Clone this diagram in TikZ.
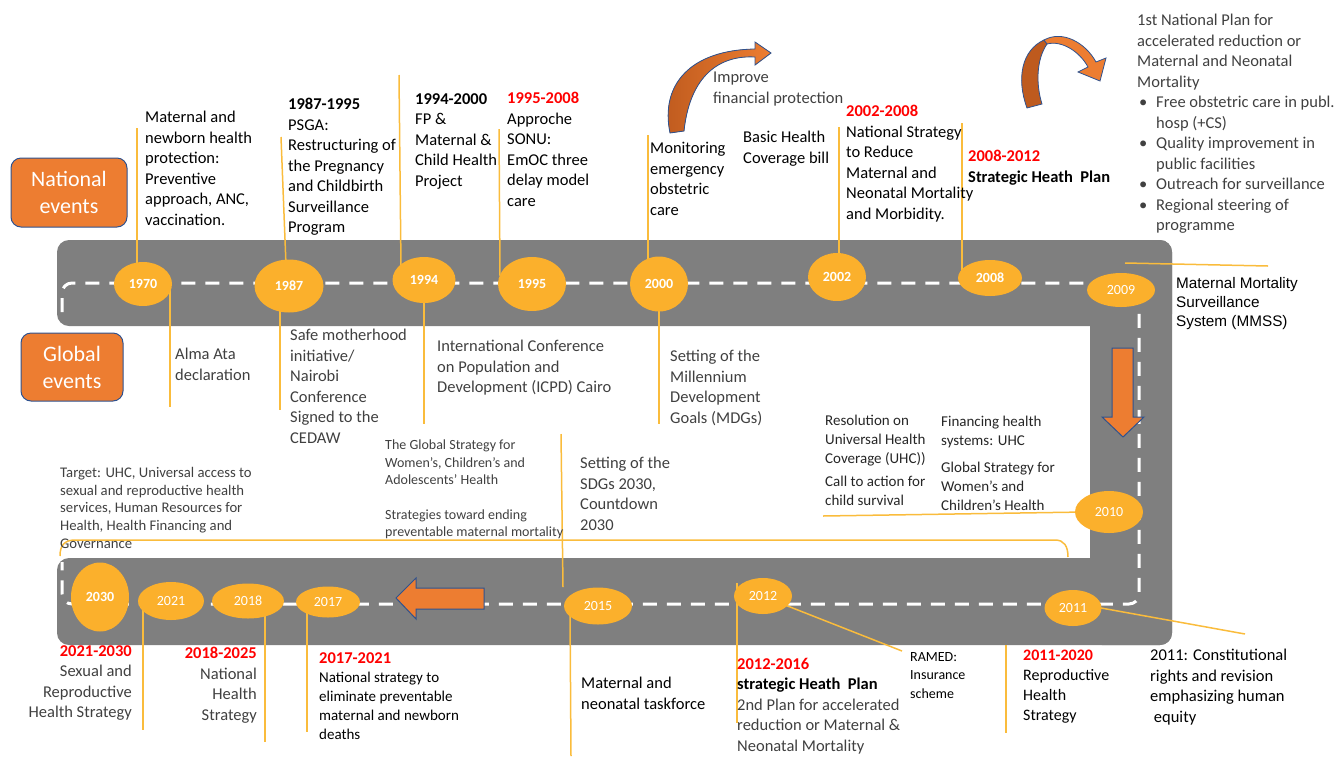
\documentclass[tikz,border=0pt]{standalone}
\usepackage{fontspec}
\setmainfont{Carlito}
\newfontfamily\arialf{Liberation Sans}
\usetikzlibrary{shapes.geometric}
\definecolor{roadgray}{RGB}{127,127,127}
\definecolor{yellowor}{RGB}{251,176,44}
\definecolor{connor}{RGB}{250,188,60}
\definecolor{boxor}{RGB}{237,125,49}
\definecolor{darkor}{RGB}{190,90,30}
\definecolor{blueline}{RGB}{47,82,143}
\definecolor{textgray}{RGB}{64,64,64}
\definecolor{textdark}{RGB}{38,38,38}
\definecolor{yred}{RGB}{255,0,0}
\newcommand\yrtitle[1]{\textcolor{yred}{\bfseries #1}}
\begin{document}
\begin{tikzpicture}[x=1pt,y=-1pt,
  road/.style={fill=roadgray},
  dashline/.style={white, line width=3pt, dash pattern=on 14pt off 10pt},
  conn/.style={draw=connor, line width=1.5pt},
  yearel/.style={ellipse, fill=yellowor, inner sep=0pt, text=white, font=\fontsize{14}{16}\selectfont},
  catbox/.style={draw=blueline, line width=1pt, fill=boxor, rounded corners=10pt, text=white, align=center, font=\fontsize{22}{27}\selectfont, inner sep=0pt},
  blockarrow/.style={fill=boxor, draw=blueline, line width=1pt},
  tnat/.style={anchor=north west, inner sep=0pt, yshift=-2pt, align=left, font=\fontsize{16.5}{20.5}\selectfont, text=black},
  tglob/.style={tnat, text=textgray},
  tsmall/.style={anchor=north west, inner sep=0pt, yshift=-2pt, align=left, font=\fontsize{14}{17.5}\selectfont, text=textgray},
  tmed/.style={anchor=north west, inner sep=0pt, yshift=-1pt, align=left, font=\fontsize{15}{19}\selectfont, text=textdark}
]
\useasboundingbox (0,0) rectangle (1339,756);

% ---- road ----
\fill[road, rounded corners=12pt] (57,240) rectangle (1172,326);
\fill[road, rounded corners=12pt] (1090,240) rectangle (1172,645);
\fill[road, rounded corners=12pt] (57,558) rectangle (1172,645);
\draw[dashline, rounded corners=10pt] (62,312) -- (62,283) -- (1139,283) -- (1139,604) -- (62,604) -- (62,562);

% ---- connector end points ----
\coordinate (t1970) at (137,128);
\coordinate (t1987) at (281,137);
\coordinate (t1994) at (399,75);
\coordinate (t1995) at (499,129);
\coordinate (t2000) at (648,135);
\coordinate (t2002) at (839,127);
\coordinate (t2008) at (962,123);
\coordinate (t2009) at (1268,266);
\coordinate (s2009) at (1125,263);
\coordinate (g1970) at (170,407);
\coordinate (g1987) at (280,410);
\coordinate (g1994) at (424,424);
\coordinate (g2000) at (659,424);
\coordinate (u2015) at (561,434);
\coordinate (v2015) at (563,587);
\coordinate (d2015) at (571,756);
\coordinate (s2012) at (737,583);
\coordinate (d2012) at (737,723);
\coordinate (r2012) at (902,651);
\coordinate (r2011) at (1245,634);
\coordinate (a2011) at (1006,645);
\coordinate (b2011) at (1006,733);
\coordinate (d2021) at (143,730);
\coordinate (d2018) at (265,742);
\coordinate (d2017) at (307,732);
\coordinate (l2010) at (823,516);

% ---- connectors (under the ellipses) ----
\draw[conn] (t1970) -- (137,270);
\draw[conn] (t1987) -- (286,265);
\draw[conn] (t1994) -- (401,268);
\draw[conn] (t1995) -- (500,276);
\draw[conn] (t2000) -- (648,265);
\draw[conn] (t2002) -- (839,262);
\draw[conn] (t2008) -- (962,270);
\draw[conn] (s2009) -- (t2009);
\draw[conn] (170,290) -- (g1970);
\draw[conn] (280,300) -- (g1987);
\draw[conn] (424,290) -- (g1994);
\draw[conn] (659,290) -- (g2000);
\draw[conn] (u2015) -- (v2015);
\draw[conn] (570,610) -- (d2015);
\draw[conn] (s2012) -- (d2012);
\draw[conn] (780,603) -- (r2012);
\draw[conn] (1090,606) -- (r2011);
\draw[conn] (a2011) -- (b2011);
\draw[conn] (143,605) -- (d2021);
\draw[conn] (265,605) -- (d2018);
\draw[conn] (307,605) -- (d2017);
\draw[conn] (1085,512) -- (l2010);
\draw[conn] (60,556) .. controls (60,546) and (64,540) .. (75,540) -- (1055,540) .. controls (1064,540) and (1068,546) .. (1068,557);

% ---- year ellipses ----
\node[yearel, minimum width=58pt, minimum height=44pt] (e1970) at (143,284) {\bfseries 1970};
\node[yearel, minimum width=69pt, minimum height=53pt] (e1987) at (289,286) {\bfseries 1987};
\node[yearel, minimum width=63pt, minimum height=46pt] (e1994) at (424,280) {\bfseries 1994};
\node[yearel, minimum width=68pt, minimum height=54pt] (e1995) at (532,284) {\bfseries 1995};
\node[yearel, minimum width=58pt, minimum height=55pt] (e2000) at (659,284) {\bfseries 2000};
\node[yearel, minimum width=58pt, minimum height=48pt] (e2002) at (837,277) {\bfseries 2002};
\node[yearel, minimum width=64pt, minimum height=36pt] (e2008) at (990,278) {\bfseries 2008};
\node[yearel, minimum width=68pt, minimum height=34pt] (e2009) at (1121,290) {2009};
\node[yearel, minimum width=68pt, minimum height=42pt] (e2010) at (1109,512) {2010};
\node[yearel, minimum width=57pt, minimum height=36pt] (e2011) at (1073,608) {2011};
\node[yearel, minimum width=58pt, minimum height=36pt] (e2012) at (763,596) {2012};
\node[yearel, minimum width=68pt, minimum height=37pt] (e2015) at (598,606) {2015};
\node[yearel, minimum width=64pt, minimum height=31pt] (e2017) at (328,602) {2017};
\node[yearel, minimum width=72pt, minimum height=35pt] (e2018) at (248,601) {2018};
\node[yearel, minimum width=66pt, minimum height=38pt] (e2021) at (171,601) {2021};
\node[yearel, minimum width=58pt, minimum height=69pt] (e2030) at (100,597) {\bfseries 2030};

% ---- category boxes ----
\node[catbox, minimum width=116pt, minimum height=69pt] (national) at (69,192.5) {National\\events};
\node[catbox, minimum width=102pt, minimum height=68pt] (global) at (72,367) {Global\\events};

% ---- block arrows ----
\filldraw[blockarrow] (1112,348) -- (1133,348) -- (1133,417) -- (1144,417) -- (1123,437) -- (1102,417) -- (1112,417) -- cycle;
\filldraw[blockarrow] (484,588) -- (416,588) -- (416,578) -- (396,598) -- (416,619) -- (416,609) -- (484,609) -- cycle;

% ---- curved arrows ----
\filldraw[left color=darkor, right color=boxor, draw=blueline, line width=0.8pt]
  (670,133) .. controls (660,85) and (690,50) .. (755,49) -- (755,42) -- (771,53) -- (755,65) -- (755,57) .. controls (720,55) and (690,75) .. (684,131) -- cycle;
\filldraw[fill=darkor, draw=blueline, line width=0.8pt]
  (1027,108) .. controls (1016,78) and (1022,50) .. (1044,40) -- (1047,44) .. controls (1036,60) and (1036,85) .. (1042,104) -- cycle;
\filldraw[fill=boxor, draw=blueline, line width=0.8pt]
  (1044,40) .. controls (1062,30) and (1085,42) .. (1096,62) -- (1106,58) -- (1100,81) -- (1078,72) -- (1088,67) .. controls (1080,52) and (1062,40) .. (1047,44) -- cycle;

% ---- national texts ----
\node[tnat] (n1970) at (145,109) {Maternal and\\newborn health\\protection:\\Preventive\\approach, ANC,\\vaccination.};
\node[tnat] (n1987) at (288,96) {\textbf{1987-1995}\\PSGA:\\Restructuring of\\the Pregnancy\\and Childbirth\\Surveillance\\Program};
\node[tnat] (n1994) at (415,91) {\textbf{1994-2000}\\FP \&\\Maternal \&\\Child Health\\Project};
\node[tnat] (n1995) at (507,90) {\yrtitle{1995-2008}\\Approche\\SONU:\\EmOC three\\delay model\\care};
\node[tnat] (n2000) at (650,140) {Monitoring\\emergency\\obstetric\\care};
\node[tglob] (improve) at (713,70) {Improve\\financial protection};
\node[tnat] (basic) at (743,129) {Basic Health\\Coverage bill};
\node[tnat] (n2002) at (846,103) {\yrtitle{2002-2008}\\National Strategy\\to Reduce\\Maternal and\\Neonatal Mortality\\and Morbidity.};
\node[tnat] (n2008) at (968,148) {\yrtitle{2008-2012}\\\textbf{Strategic Heath~~Plan}};
\node[tglob] (plan1) at (1137,12) {1st National Plan for\\accelerated reduction or\\Maternal and Neonatal\\Mortality\\
  \makebox[19pt][l]{\hspace{2pt}•}Free obstetric care in publ.\\\hspace*{19pt}hosp (+CS)\\
  \makebox[19pt][l]{\hspace{2pt}•}Quality improvement in\\\hspace*{19pt}public facilities\\
  \makebox[19pt][l]{\hspace{2pt}•}Outreach for surveillance\\
  \makebox[19pt][l]{\hspace{2pt}•}Regional steering of\\\hspace*{19pt}programme};
\node[anchor=north west, inner sep=0pt, yshift=-2pt, align=left, font=\arialf\fontsize{15.3}{19}\selectfont] (mmss) at (1176,275) {Maternal Mortality\\Surveillance\\System (MMSS)};

% ---- global texts ----
\node[tglob] (g1) at (175,346) {Alma Ata\\declaration};
\node[tglob] (g2) at (290,327) {Safe motherhood\\initiative/\\Nairobi\\Conference\\Signed to the\\CEDAW};
\node[tglob] (g3) at (437,338) {International Conference\\on Population and\\Development (ICPD) Cairo};
\node[tglob] (g4) at (670,348) {Setting of the\\Millennium\\Development\\Goals (MDGs)};
\node[tsmall] (g5) at (385,438) {The Global Strategy for\\Women’s, Children’s and\\Adolescents’ Health\\[17pt]Strategies toward ending\\preventable maternal mortality};
\node[tglob] (g6) at (580,455) {Setting of the\\SDGs 2030,\\Countdown\\2030};
\node[tsmall, font=\fontsize{14.7}{17.7}\selectfont] (g7) at (60,465) {Target: UHC, Universal access to\\sexual and reproductive health\\services, Human Resources for\\Health, Health Financing and\\Governance};
\node[tmed] (g8) at (825,414) {Resolution on\\Universal Health\\Coverage (UHC))\\[4pt]Call to action for\\child survival};
\node[tmed] (g9) at (941,415) {Financing health\\systems: UHC\\[8pt]Global Strategy for\\Women's and\\Children's Health};

% ---- bottom texts ----
\node[tglob, anchor=north east, align=right] (b1) at (132,643) {\yrtitle{2021-2030}\\Sexual and\\Reproductive\\Health Strategy};
\node[tglob, anchor=north east, align=right] (b2) at (257,645) {\yrtitle{2018-2025}\\National\\Health\\Strategy};
\node[tnat] (b3) at (319,650) {\yrtitle{2017-2021}\\[-1pt]{\fontsize{15}{19}\selectfont National strategy to}\\[-1.5pt]{\fontsize{15}{19}\selectfont eliminate preventable}\\[-1.5pt]{\fontsize{15}{19}\selectfont maternal and newborn}\\[-1.5pt]{\fontsize{15}{19}\selectfont deaths}};
\node[tnat] (b4) at (581,675) {Maternal and\\neonatal taskforce};
\node[tnat] (b5) at (737,656) {\yrtitle{2012-2016}\\\textbf{strategic Heath~~Plan}\\\textcolor{textgray}{2nd Plan for accelerated}\\\textcolor{textgray}{reduction or Maternal \&}\\\textcolor{textgray}{Neonatal Mortality}};
\node[anchor=north west, inner sep=0pt, yshift=-1pt, align=left, font=\fontsize{14}{18.5}\selectfont] (b6) at (910,651) {RAMED:\\Insurance\\scheme};
\node[tnat, font=\fontsize{16}{20}\selectfont] (b7) at (1023,648) {\yrtitle{2011-2020}\\Reproductive\\Health\\Strategy};
\node[tnat] (b8) at (1150,647) {2011: Constitutional\\rights and revision\\emphasizing human\\\ equity};
\end{tikzpicture}
\end{document}
